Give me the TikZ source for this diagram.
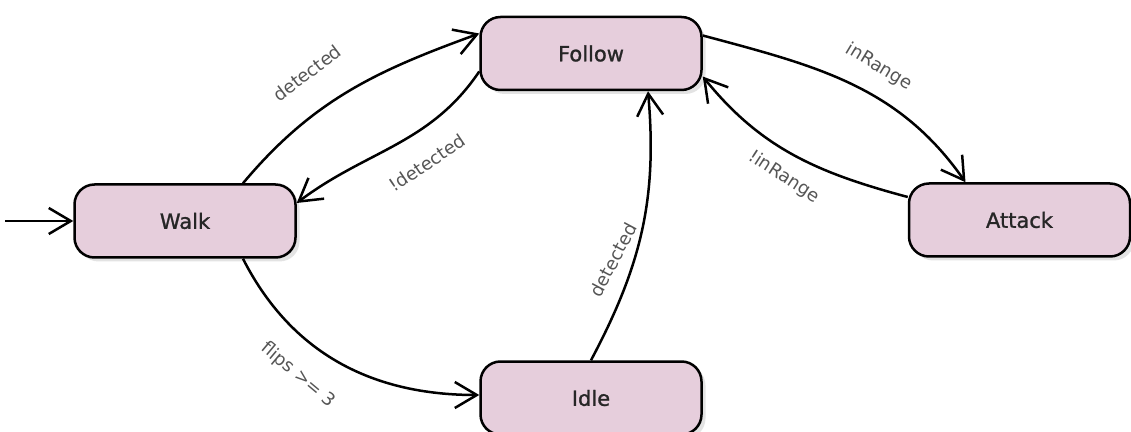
\documentclass[tikz,border=0pt]{standalone}
\usepackage{fontspec}
\setmainfont{DejaVu Sans}
\newfontfamily\statefont[FakeBold=1.2]{DejaVu Sans}
\usepackage{tikz}
\usetikzlibrary{arrows.meta,shadows}

\definecolor{statefill}{HTML}{E6CEDC}
\definecolor{labelgray}{HTML}{555555}

\begin{document}
\begin{tikzpicture}[x=1pt,y=1pt,
    state/.style={draw=black, line width=2.5pt, fill=statefill, rounded corners=20pt,
      minimum width=221pt, minimum height=73pt, inner sep=0pt,
      font=\statefont\fontsize{21}{25}\selectfont, text=black!85,
      drop shadow={opacity=0.22, shadow xshift=4pt, shadow yshift=-4pt}},
    trans/.style={line width=2.5pt, -{Straight Barb[length=22pt,width=26pt]}},
    lbl/.style={font=\fontsize{18}{21}\selectfont, text=labelgray, inner sep=0pt}]

    \useasboundingbox (0,0) rectangle (1131,431);

    % Draw the states
    \node[state] (walk) at (185,210) {Walk};
    \node[state] (follow) at (591,377.5) {Follow};
    \node[state] (attack) at (1019.5,211) {Attack};
    \node[state] (idle) at (591,33) {Idle};

    % Initial arrow into Walk
    \coordinate (init) at (5,210);
    \draw[trans] (init) -- (walk.west);

    % Draw the transitions
    \draw[trans] ([xshift=58pt]walk.north) to[out=50,in=200] ([yshift=20pt]follow.west);
    \draw[trans] ([yshift=-18pt]follow.west) to[out=236,in=37] ([yshift=18pt]walk.east);
    \draw[trans] ([xshift=58pt]walk.south) to[out=-63,in=180] ([yshift=3pt]idle.west);
    \draw[trans] (idle.north) to[out=62,in=-85] ([xshift=57pt]follow.south);
    \draw[trans] ([yshift=18pt]follow.east) to[out=-15,in=125] ([xshift=-54pt]attack.north);
    \draw[trans] ([yshift=23pt]attack.west) to[out=165,in=-51] ([yshift=-23pt]follow.east);

    % Label the transitions
    \node[lbl, rotate=37] (lwf) at (307,358) {detected};
    \node[lbl, rotate=34] (lfw) at (427,268) {!detected};
    \node[lbl, rotate=-40] (lwi) at (298,56) {flips >= 3};
    \node[lbl, rotate=62] (lif) at (613,171) {detected};
    \node[lbl, rotate=-31] (lfa) at (879,364) {inRange};
    \node[lbl, rotate=-33] (laf) at (784,254) {!inRange};
\end{tikzpicture}
\end{document}
